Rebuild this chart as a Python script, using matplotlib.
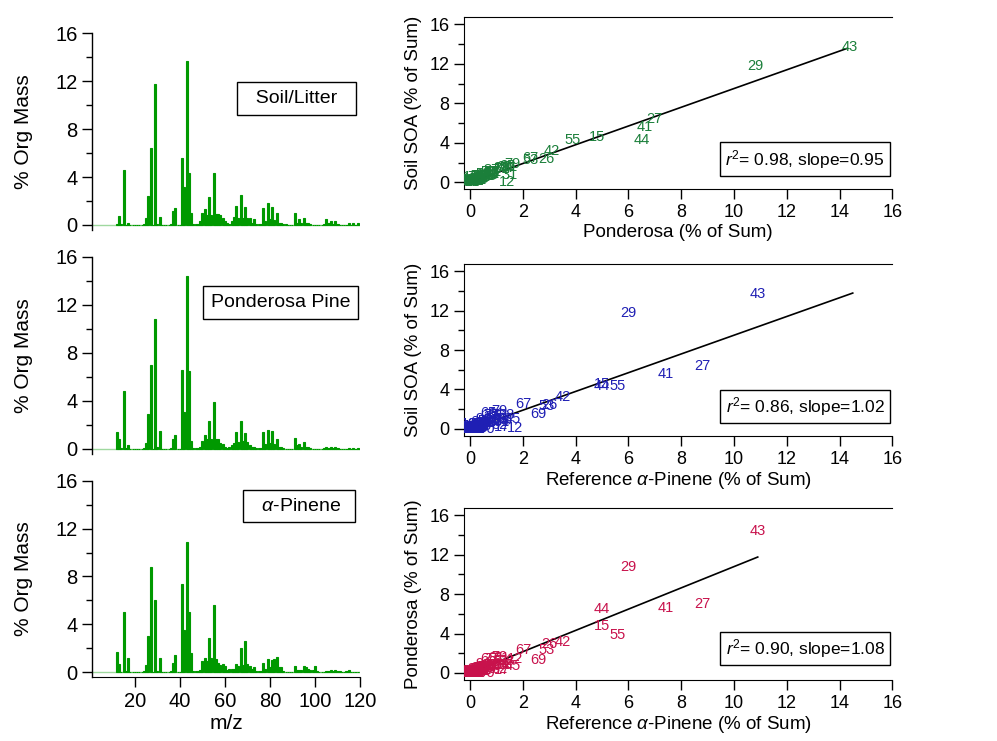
import numpy as np
import matplotlib.pyplot as plt
from matplotlib.ticker import MultipleLocator

plt.rcParams['font.family'] = ['Liberation Sans', 'DejaVu Sans']
plt.rcParams['mathtext.fontset'] = 'custom'
plt.rcParams['mathtext.rm'] = 'Liberation Sans'
plt.rcParams['mathtext.it'] = 'Liberation Sans:italic'

# m/z 12 .. 120, % of organic mass
mz = np.arange(12, 121)

soil = [
    0.05, 0.75, 0.05, 4.6, 0.0, 0.2, 0.0, 0.0, 0.0, 0.0,
    0.0, 0.0, 0.1, 0.55, 2.4, 6.4, 0.0, 11.8, 0.1, 0.7,
    0.0, 0.0, 0.0, 0.0, 0.1, 1.2, 1.4, 0.0, 0.0, 5.6,
    3.2, 13.7, 4.3, 1.0, 0.1, 0.1, 0.1, 0.3, 1.0, 1.3,
    0.8, 2.3, 0.8, 4.3, 0.9, 0.9, 0.8, 0.6, 0.3, 0.2,
    0.1, 0.3, 0.7, 1.6, 0.6, 2.5, 0.6, 1.5, 0.6, 0.6,
    0.2, 0.5, 0.1, 0.1, 0.1, 1.4, 0.3, 1.8, 0.5, 1.5,
    0.4, 1.0, 0.2, 0.2, 0.05, 0.05, 0.0, 0.0, 0.0, 1.0,
    0.2, 0.5, 0.2, 0.6, 0.2, 0.2, 0.1, 0.0, 0.0, 0.0,
    0.0, 0.0, 0.1, 0.5, 0.2, 0.3, 0.1, 0.3, 0.1, 0.0,
    0.0, 0.0, 0.0, 0.2, 0.0, 0.2, 0.0, 0.2, 0.0,
]

ponderosa = [
    1.4, 0.8, 0.1, 4.8, 0.1, 0.3, 0.0, 0.0, 0.0, 0.0,
    0.0, 0.0, 0.1, 0.5, 2.9, 7.0, 0.0, 10.8, 0.2, 1.5,
    0.0, 0.0, 0.0, 0.0, 0.1, 0.8, 1.2, 0.0, 0.0, 6.6,
    3.1, 14.4, 6.5, 0.7, 0.1, 0.1, 0.1, 0.2, 0.7, 1.2,
    0.8, 2.3, 0.8, 3.9, 0.8, 0.8, 0.5, 0.4, 0.2, 0.1,
    0.2, 0.3, 0.5, 1.4, 0.6, 2.3, 0.7, 1.3, 0.6, 0.3,
    0.2, 0.2, 0.1, 0.1, 0.1, 1.4, 0.4, 1.6, 0.5, 1.5,
    0.4, 0.8, 0.2, 0.2, 0.05, 0.0, 0.0, 0.0, 0.0, 0.9,
    0.3, 0.4, 0.2, 0.6, 0.2, 0.2, 0.05, 0.0, 0.0, 0.0,
    0.0, 0.0, 0.1, 0.2, 0.1, 0.2, 0.1, 0.2, 0.05, 0.0,
    0.0, 0.0, 0.0, 0.1, 0.0, 0.1, 0.0, 0.1, 0.0,
]

apinene = [
    1.7, 0.7, 0.0, 5.0, 0.1, 1.2, 0.0, 0.0, 0.0, 0.0,
    0.0, 0.0, 0.1, 0.6, 3.0, 8.8, 0.0, 6.0, 0.1, 1.2,
    0.0, 0.0, 0.0, 0.0, 0.1, 0.8, 1.4, 0.0, 0.0, 7.4,
    3.5, 10.9, 5.0, 1.6, 0.1, 0.1, 0.1, 0.2, 0.9, 1.2,
    0.9, 2.9, 1.2, 5.6, 1.1, 0.8, 0.6, 0.7, 0.5, 0.2,
    0.3, 0.3, 0.3, 0.7, 0.5, 2.0, 0.6, 2.6, 0.7, 0.5,
    0.3, 0.4, 0.1, 0.1, 0.1, 0.8, 0.3, 1.1, 0.4, 1.0,
    1.1, 1.3, 0.4, 0.4, 0.1, 0.05, 0.05, 0.0, 0.0, 0.5,
    0.2, 0.2, 0.2, 0.5, 0.4, 0.3, 0.2, 0.2, 0.5, 0.1,
    0.05, 0.05, 0.05, 0.1, 0.1, 0.2, 0.1, 0.2, 0.1, 0.1,
    0.05, 0.05, 0.1, 0.2, 0.05, 0.05, 0.05, 0.05, 0.0,
]

spectra = [soil, ponderosa, apinene]
spectra_names = ["  Soil/Litter  ", "Ponderosa Pine", r"  $\alpha$-Pinene  "]
name_pos = [(0.763, 0.669), (0.705, 0.769), (0.772, 0.871)]

# scatter comparisons: (x data, y data)
pairs = [(ponderosa, soil), (apinene, soil), (apinene, ponderosa)]
xlabels = ["Ponderosa (% of Sum)",
           r"Reference $\alpha$-Pinene (% of Sum)",
           r"Reference $\alpha$-Pinene (% of Sum)"]
ylabels = ["Soil SOA (% of Sum)", "Soil SOA (% of Sum)", "Ponderosa (% of Sum)"]
label_colors = ["#1b7f3a", "#1f1fb4", "#c8124c"]
r2_values = [0.98, 0.86, 0.90]
slope_values = [0.95, 1.02, 1.08]
line_slopes = [0.95, 0.95, 1.08]
line_xend = [14.3, 14.5, 10.9]
box_y = [0.176, 0.173, 0.185]

fig = plt.figure(figsize=(9.97, 7.41), dpi=100)

left_rects = [[0.0923, 0.6896, 0.2688, 0.2655],
              [0.0923, 0.3873, 0.2688, 0.2659],
              [0.0923, 0.0860, 0.2688, 0.2653]]
right_rects = [[0.4657, 0.7445, 0.4293, 0.2321],
               [0.4657, 0.4116, 0.4293, 0.2321],
               [0.4657, 0.0823, 0.4293, 0.2317]]

for i in range(3):
    ax = fig.add_axes(left_rects[i])
    ax.bar(mz, spectra[i], width=0.9, color="#009900", edgecolor="#009900", linewidth=0.8)
    ax.axhline(0, color="#9fd89f", lw=1, zorder=0)
    ax.set_xlim(1, 120)
    ax.set_ylim(-0.42, 16)
    ax.yaxis.set_major_locator(MultipleLocator(4))
    ax.yaxis.set_minor_locator(MultipleLocator(2))
    ax.tick_params(axis='y', which='major', direction='out', length=7, width=1, labelsize=14.5)
    ax.tick_params(axis='y', which='minor', direction='out', length=4.5, width=1)
    for s in ['top', 'right']:
        ax.spines[s].set_visible(False)
    ax.spines['left'].set_linewidth(1)
    ax.set_ylabel("% Org Mass", fontsize=15)
    ax.yaxis.set_label_coords(-0.22, 0.5)
    if i < 2:
        ax.spines['bottom'].set_visible(False)
        ax.set_xticks([])
    else:
        ax.set_xticks([20, 40, 60, 80, 100, 120])
        ax.tick_params(axis='x', direction='out', length=7, width=1, labelsize=14.5)
        ax.set_xlabel("m/z", fontsize=15, labelpad=2)
    ax.text(name_pos[i][0], name_pos[i][1], spectra_names[i], transform=ax.transAxes,
            ha='center', va='center', fontsize=14,
            bbox=dict(boxstyle='square,pad=0.4', fc='white', ec='black', lw=1))

for i in range(3):
    ax = fig.add_axes(right_rects[i])
    xd, yd = pairs[i]
    for m, xv, yv in zip(mz, xd, yd):
        if xv == 0 and yv == 0:
            continue
        ax.text(xv, yv, str(m), color=label_colors[i], fontsize=10.5,
                ha='center', va='center', clip_on=True)
    fit_x = np.array([0, line_xend[i]])
    ax.plot(fit_x, line_slopes[i] * fit_x, color='black', lw=1.2)
    ax.set_xlim(-0.22, 16)
    ax.set_ylim(-0.72, 16.72)
    ax.xaxis.set_major_locator(MultipleLocator(2))
    ax.yaxis.set_major_locator(MultipleLocator(4))
    ax.yaxis.set_minor_locator(MultipleLocator(2))
    ax.tick_params(which='major', direction='out', length=7, width=1, labelsize=13)
    ax.tick_params(which='minor', direction='out', length=4.5, width=1)
    ax.spines['right'].set_visible(False)
    ax.set_xlabel(xlabels[i], fontsize=13.5, labelpad=2)
    ax.set_ylabel(ylabels[i], fontsize=13.5)
    ax.yaxis.set_label_coords(-0.099, 0.5)
    ax.text(0.982, box_y[i], r"$r^2$= %.2f, slope=%.2f" % (r2_values[i], slope_values[i]),
            transform=ax.transAxes, ha='right', va='center', fontsize=12.5,
            bbox=dict(boxstyle='square,pad=0.3', fc='white', ec='black', lw=1))

plt.savefig("out.png", dpi=100)
